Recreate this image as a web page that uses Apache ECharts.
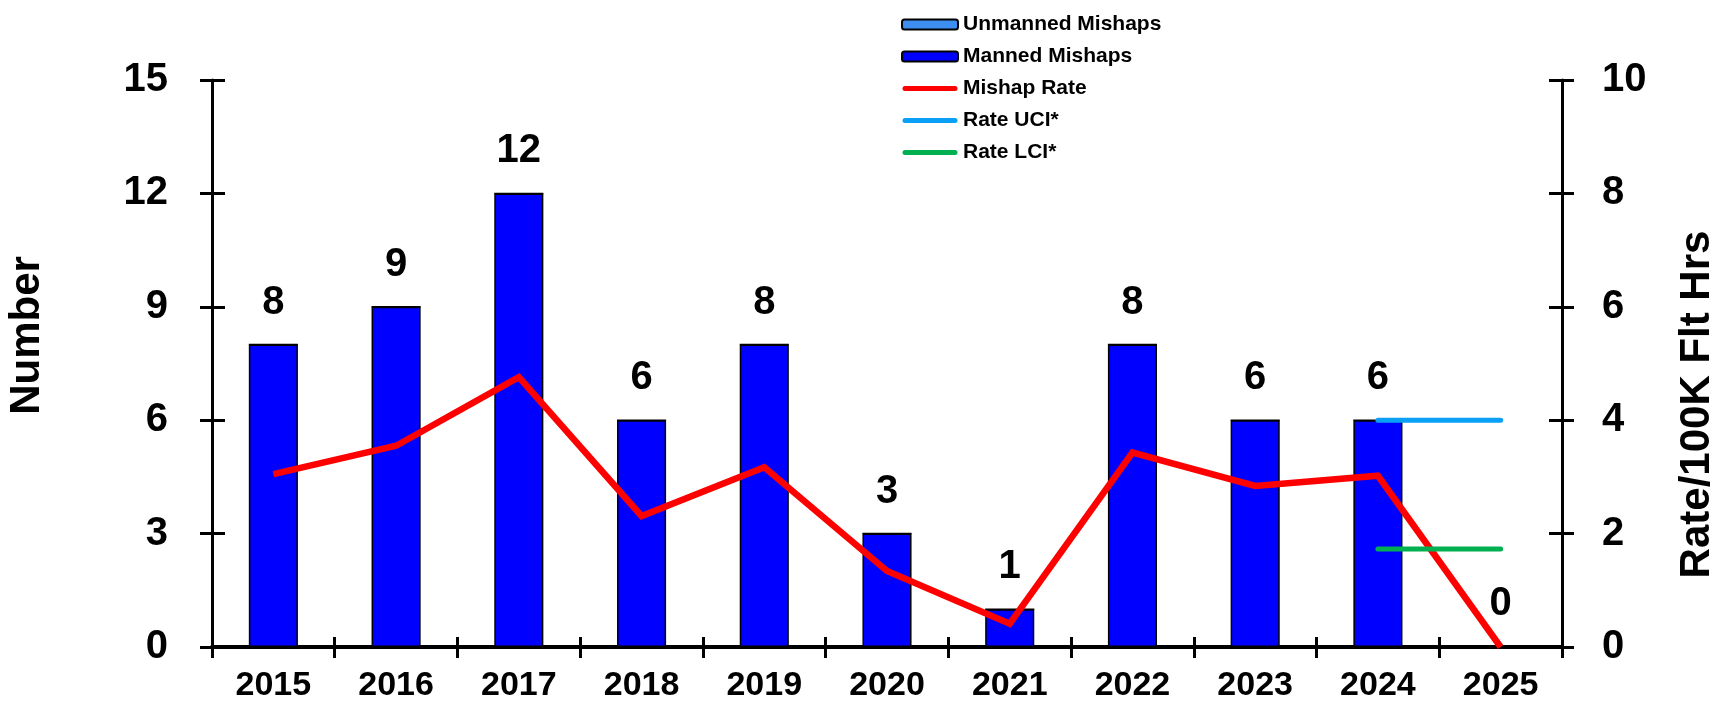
<!DOCTYPE html>
<html>
<head>
<meta charset="utf-8">
<title>Mishaps</title>
<script src="https://cdn.jsdelivr.net/npm/echarts@6/dist/echarts.min.js"></script>
<style>
    html, body { margin: 0; padding: 0; background: #fff; }
    #main { width: 1712px; height: 701px; }
</style>
</head>
<body>
<div id="main"></div>
<script>
var years = ["2015", "2016", "2017", "2018", "2019", "2020", "2021", "2022", "2023", "2024", "2025"];
var mannedMishaps = [8, 9, 12, 6, 8, 3, 1, 8, 6, 6, 0];
var unmannedMishaps = [0, 0, 0, 0, 0, 0, 0, 0, 0, 0, 0];
var mishapRate = [3.05, 3.55, 4.76, 2.31, 3.17, 1.34, 0.41, 3.43, 2.84, 3.02, 0];
var rateUCI = [null, null, null, null, null, null, null, null, null, 4.0, 4.0];
var rateLCI = [null, null, null, null, null, null, null, null, null, 1.73, 1.73];

var FONT = "Liberation Sans";
// thick line with round ends for the legend (the extra moves fix the box to 56x10)
var LINE_ICON = "path://M0,0 M56,10 M3,2.5 L53,2.5 A2.5,2.5,0,0,1,53,7.5 L3,7.5 A2.5,2.5,0,0,1,3,2.5 Z";

var MishapChart = function (domId) {
    var oChart = new Object();
    oChart.myChart = echarts.init(document.getElementById(domId));

    // axis helper: the second copy only draws the inner half of the ticks
    oChart.yAxisPair = function (pos, max, interval, name, namePad, nameGap) {
        var main = {
            type: "value",
            position: pos,
            min: 0,
            max: max,
            interval: interval,
            name: name,
            nameLocation: "middle",
            nameRotate: 90,
            nameGap: nameGap,
            nameTextStyle: { fontFamily: FONT, fontSize: 42, fontWeight: "bold", color: "#000", padding: namePad },
            axisLine: { show: true, lineStyle: { color: "#000", width: 3 } },
            axisTick: { show: true, inside: false, length: 12, lineStyle: { color: "#000", width: 3 } },
            axisLabel: { fontFamily: FONT, fontSize: 40, fontWeight: "bold", color: "#000", margin: pos == "left" ? 44 : 40 },
            splitLine: { show: false }
        };
        var inner = {
            type: "value",
            position: pos,
            min: 0,
            max: max,
            interval: interval,
            axisLine: { show: false },
            axisTick: { show: true, inside: true, length: 13, lineStyle: { color: "#000", width: 3 } },
            axisLabel: { show: false },
            splitLine: { show: false }
        };
        return [main, inner];
    };

    oChart.drawChart = function () {
        var left = oChart.yAxisPair("left", 15, 3, "Number", [0, 0, 0, 56], 164);
        var right = oChart.yAxisPair("right", 10, 2, "Rate/100K Flt Hrs", [0, 82, 0, 0], 114);

        var option = {
            backgroundColor: "#fff",
            animation: false,
            textStyle: { fontFamily: FONT },
            grid: { left: 212, right: 150, top: 80, bottom: 54, containLabel: false, outerBoundsMode: "none" },
            legend: {
                orient: "vertical",
                left: 896,
                top: 9,
                itemWidth: 56,
                itemHeight: 10,
                itemGap: 11,
                textStyle: { fontFamily: FONT, fontSize: 21, fontWeight: "bold", color: "#000" },
                data: [
                    { name: "Unmanned Mishaps" },
                    { name: "Manned Mishaps" },
                    { name: "Mishap Rate", icon: LINE_ICON },
                    { name: "Rate UCI*", icon: LINE_ICON },
                    { name: "Rate LCI*", icon: LINE_ICON }
                ]
            },
            xAxis: [{
                type: "category",
                position: "bottom",
                data: years,
                axisLine: { lineStyle: { color: "#000", width: 4 } },
                axisTick: { show: true, inside: false, length: 11, lineStyle: { color: "#000", width: 3 } },
                axisLabel: { fontFamily: FONT, fontSize: 34, fontWeight: "bold", color: "#000", margin: 22 }
            }, {
                type: "category",
                position: "bottom",
                data: years,
                axisLine: { show: false },
                axisTick: { show: true, inside: true, length: 10, lineStyle: { color: "#000", width: 3 } },
                axisLabel: { show: false }
            }],
            yAxis: [left[0], right[0], left[1], right[1]],
            series: [{
                name: "Manned Mishaps",
                type: "bar",
                stack: "mishaps",
                barWidth: "40%",
                yAxisIndex: 0,
                data: mannedMishaps,
                itemStyle: { color: "#0000FF", borderColor: "#000", borderWidth: 1.5 },
                label: {
                    show: true,
                    position: "top",
                    distance: 22,
                    fontFamily: FONT,
                    fontSize: 40,
                    fontWeight: "bold",
                    color: "#000"
                }
            }, {
                name: "Unmanned Mishaps",
                type: "bar",
                stack: "mishaps",
                barWidth: "40%",
                yAxisIndex: 0,
                data: unmannedMishaps,
                itemStyle: { color: "#3D8EF0", borderColor: "#000", borderWidth: 1.5 }
            }, {
                name: "Mishap Rate",
                type: "line",
                yAxisIndex: 1,
                data: mishapRate,
                symbol: "none",
                itemStyle: { color: "#FF0000" },
                lineStyle: { color: "#FF0000", width: 6.5, join: "miter" }
            }, {
                name: "Rate UCI*",
                type: "line",
                yAxisIndex: 1,
                data: rateUCI,
                symbol: "none",
                itemStyle: { color: "#0AA0F5" },
                lineStyle: { color: "#0AA0F5", width: 5, cap: "round" }
            }, {
                name: "Rate LCI*",
                type: "line",
                yAxisIndex: 1,
                data: rateLCI,
                symbol: "none",
                itemStyle: { color: "#00B050" },
                lineStyle: { color: "#00B050", width: 5, cap: "round" }
            }]
        };
        oChart.myChart.setOption(option);
    };
    return oChart;
};

var oMishap = new MishapChart("main");
oMishap.drawChart();
</script>
</body>
</html>
